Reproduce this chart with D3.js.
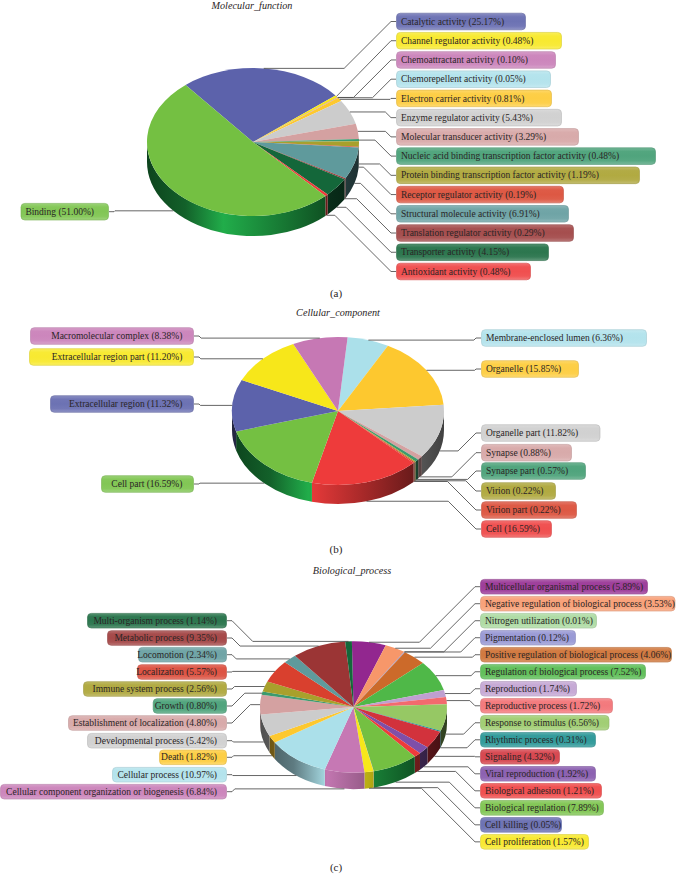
<!DOCTYPE html>
<html><head><meta charset="utf-8">
<style>html,body{margin:0;padding:0;background:#fff}svg{display:block}text{font-family:"Liberation Serif",serif;fill:#2a2526}</style>
<script src="https://cdnjs.cloudflare.com/ajax/libs/d3/7.8.5/d3.min.js"></script>
</head><body><div id="chart"></div>
<script>
// ---- data ----
const labelsA = ["Catalytic activity","Channel regulator activity","Chemoattractant activity","Chemorepellent activity","Electron carrier activity","Enzyme regulator activity","Molecular transducer activity","Nucleic acid binding transcription factor activity","Protein binding transcription factor activity","Receptor regulator activity","Structural molecule activity","Translation regulator activity","Transporter activity","Antioxidant activity","Binding"];
const valuesA = [25.17,0.48,0.10,0.05,0.81,5.43,3.29,0.48,1.19,0.19,6.91,0.29,4.15,0.48,51.00];
const colorsA = ["#5c62ab","#f7e71a","#c678b4","#abe0ea","#fdc82f","#cccccc","#d4a1a1","#3c9a6e","#a8a02c","#d9452e","#5f9a9c","#9b3a3a","#14673a","#ee3b3b","#74c042"];

const labelsB = ["Membrane-enclosed lumen","Organelle","Organelle part","Synapse","Synapse part","Virion","Virion part","Cell","Cell part","Extracellular region","Extracellular region part","Macromolecular complex"];
const valuesB = [6.36,15.85,11.82,0.88,0.57,0.22,0.22,16.59,16.59,11.32,11.20,8.38];
const colorsB = ["#abe0ea","#fdc82f","#cccccc","#d4a1a1","#3c9a6e","#a8a02c","#d9452e","#ee3b3b","#74c042","#5c62ab","#f7e71a","#c678b4"];

const labelsC = ["Multicellular organismal process","Negative regulation of biological process","Nitrogen utilization","Pigmentation","Positive regulation of biological process","Regulation of biological process","Reproduction","Reproductive process","Response to stimulus","Rhythmic process","Signaling","Viral reproduction","Biological adhesion","Biological regulation","Cell killing","Cell proliferation","Cellular component organization or biogenesis","Cellular process","Death","Developmental process","Establishment of localization","Growth","Immune system process","Localization","Locomotion","Metabolic process","Multi-organism process"];
const valuesC = [5.89,3.53,0.01,0.12,4.06,7.52,1.74,1.72,6.56,0.31,4.32,1.92,1.21,7.89,0.05,1.57,6.84,10.97,1.82,5.42,4.80,0.80,2.56,5.57,2.34,9.35,1.14];
const colorsC = ["#92278f","#f7976a","#a5d79a","#8e8fd0","#cc6a2a","#4fb848","#bf9fd0","#f26a6e","#96c864","#1a8f8f","#d2323c","#7f4fa8","#ee3b3b","#74c042","#5c62ab","#f7e71a","#c678b4","#abe0ea","#fdc82f","#cccccc","#d4a1a1","#3c9a6e","#a8a02c","#d9402e","#5f9a9c","#9b3535","#14673a"];

// ---- layout (label boxes), separate from the data ----
const layoutA = {title:"Molecular_function",tag:"(a)",cx:253,cy:142,rx:106,ry:74,depth:20,start:-39.5,titleX:252,titleY:9,tagY:297,boxH:16.6,pad:15,
  right:{x:396,ys:d3.range(14).map(i=>21.5+i*19.23),ends:[526,562,556,551,552,562,579,656,640,564,569,574,549,531]},
  left:{right:109,ys:[211.7],starts:[20.5]}};
const layoutB = {title:"Cellular_component",tag:"(b)",cx:338,cy:411,rx:106,ry:74,depth:19,start:5.2,titleX:338,titleY:316,tagY:553,boxH:16.6,pad:11.7,
  right:{x:481,ys:[338,369,433,452.7,471,491,510,529],ends:[647,579,600.5,572,586,556,577,552]},
  left:{right:194,ys:[484,404,357,336],starts:[101,50,29,30]}};
const layoutC = {title:"Biological_process",tag:"(c)",cx:353.5,cy:707,rx:93.5,ry:65.7,depth:16.5,start:-1,titleX:352,titleY:574,tagY:871,boxH:14.6,pad:10,
  right:{x:480,ys:d3.range(16).map(i=>586.7+i*17.01),ends:[648,675.5,597,576,672,646,577,613,609.5,596,560,596,602,604,562,589]},
  left:{right:227,ys:[791.7,774.7,757.3,740.7,723,706,689,672,654.7,638,620.7],starts:[0,112,159,87,68,152.7,83,137,138,107,87]}};

const FS = 9.5;
const svg = d3.select("#chart").append("svg").attr("width",676).attr("height",879);
const defs = svg.append("defs");
let gid = 0;
const mix = (a,b,t)=>d3.interpolateRgb(a,b)(t);
const isGreen = c => c==="#74c042";

function wallGradient(color,L){
  const id="w"+(gid++);
  const bright = isGreen(color) ? "#22b14c" : color;
  const g = defs.append("linearGradient").attr("id",id).attr("gradientUnits","userSpaceOnUse")
    .attr("x1",L.cx-L.rx).attr("x2",L.cx+L.rx).attr("y1",0).attr("y2",0);
  [[0,.62],[.18,.45],[.36,0.02],[.62,.3],[.85,.55],[1,.68]].forEach(([o,t])=>
    g.append("stop").attr("offset",o).attr("stop-color",mix(bright,"#000",t)));
  return id;
}
function boxGradient(color){
  const id="b"+(gid++);
  const base = mix(color,"#fff",.1);
  const g = defs.append("linearGradient").attr("id",id).attr("x1",0).attr("x2",0).attr("y1",0).attr("y2",1);
  [[0,mix(color,"#fff",.28)],[.22,mix(color,"#fff",.12)],[.5,base],[.78,mix(color,"#fff",.14)],[1,mix(color,"#fff",.32)]]
    .forEach(([o,c])=>g.append("stop").attr("offset",o).attr("stop-color",c));
  return id;
}

function drawPie(labels,values,colors,L){
  const rad = Math.PI/180;
  const pie = d3.pie().sort(null).value(d=>d).startAngle(L.start*rad).endAngle((L.start+360)*rad);
  const slices = pie(values);
  const px = a=>L.cx+L.rx*Math.sin(a), py=a=>L.cy-L.ry*Math.cos(a);
  const root = svg.append("g");

  // side walls
  const walls = root.append("g");
  slices.forEach((s,i)=>{
    const a0=Math.max(s.startAngle,90*rad), a1=Math.min(s.endAngle,270*rad);
    if(a1<=a0) return;
    const path=`M${px(a0)},${py(a0)}A${L.rx},${L.ry} 0 0 1 ${px(a1)},${py(a1)}L${px(a1)},${py(a1)+L.depth}A${L.rx},${L.ry} 0 0 0 ${px(a0)},${py(a0)+L.depth}Z`;
    walls.append("path").attr("d",path).attr("fill",`url(#${wallGradient(colors[i],L)})`);
  });

  // top face
  const arc = d3.arc().innerRadius(0).outerRadius(L.rx);
  root.append("g").attr("transform",`translate(${L.cx},${L.cy}) scale(1,${L.ry/L.rx})`)
    .selectAll("path").data(slices).join("path")
    .attr("d",arc).attr("fill",(d,i)=>colors[i]);

  // labels + leaders
  const nR=L.right.ys.length;
  const anchor=s=>{
    const m=(s.startAngle+s.endAngle)/2, low=m>90*rad&&m<270*rad;
    return [px(m),py(m)+(low?L.depth:0)];
  };
  const leaders=root.append("g").attr("fill","none").attr("stroke","#4a4a4a").attr("stroke-width",.85);
  const boxes=root.append("g");
  const drawBox=(x0,x1,y,i)=>{
    boxes.append("rect").attr("x",x0+.5).attr("y",y-L.boxH/2).attr("width",x1-x0-1).attr("height",L.boxH).attr("rx",3.8)
      .attr("fill",`url(#${boxGradient(colors[i])})`).attr("stroke",mix(colors[i],"#888",.25)).attr("stroke-opacity",.7).attr("stroke-width",.9);
  };
  const text=(i)=>`${labels[i]} (${values[i].toFixed(2)}%)`;
  slices.forEach((s,i)=>{
    const [ax,ay]=anchor(s);
    if(i<nR){
      const y=L.right.ys[i],x=L.right.x,ex=x-5;
      const dy=Math.abs(y-ay);
      const elbow=Math.max(ax,ex-dy);
      leaders.append("polyline").attr("points",[[ax,ay],[elbow,ay],[ex,y],[x,y]].join(" "));
      drawBox(x,L.right.ends[i],y,i);
      boxes.append("text").attr("x",x+5).attr("y",y+3.1).attr("font-size",FS).text(text(i));
    }else{
      const k=i-nR,y=L.left.ys[k],x=L.left.right,ex=x+5;
      const dy=Math.abs(y-ay);
      const elbow=Math.min(ax,ex+dy);
      leaders.append("polyline").attr("points",[[ax,ay],[elbow,ay],[ex,y],[x,y]].join(" "));
      drawBox(L.left.starts[k],x,y,i);
      boxes.append("text").attr("x",x-L.pad).attr("y",y+3.1).attr("text-anchor","end").attr("font-size",FS).text(text(i));
    }
  });

  root.append("text").attr("x",L.titleX).attr("y",L.titleY).attr("text-anchor","middle")
    .attr("font-style","italic").attr("font-size",10.2).text(L.title);
  root.append("text").attr("x",336).attr("y",L.tagY).attr("text-anchor","middle")
    .attr("font-size",11).text(L.tag);
}
drawPie(labelsA,valuesA,colorsA,layoutA);
drawPie(labelsB,valuesB,colorsB,layoutB);
drawPie(labelsC,valuesC,colorsC,layoutC);
</script></body></html>
